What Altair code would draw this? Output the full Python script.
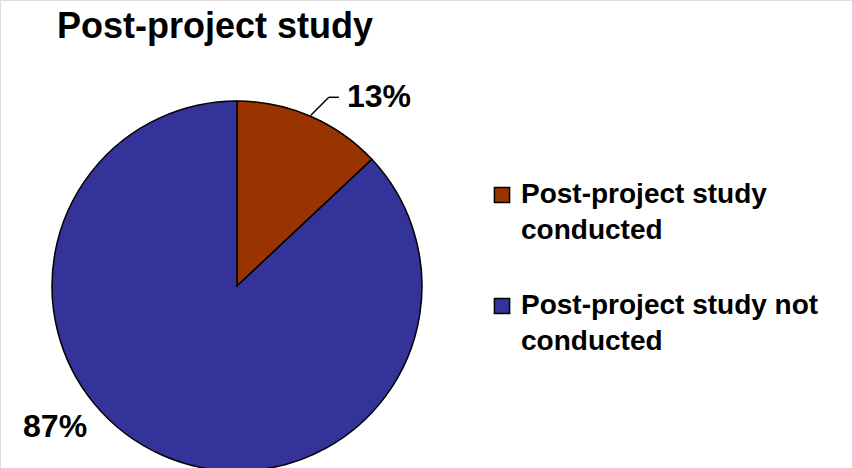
import altair as alt
import numpy as np
import pandas as pd

# Survey result: share of projects with / without a post-project study
categories = ["Post-project study conducted", "Post-project study not conducted"]
shares = [13, 87]
pct_labels = ["13%", "87%"]
colors = ["#993300", "#333399"]
title_text = "Post-project study"

FONT = "Liberation Sans"
CX, CY, R = 237, 286, 185  # pie centre and radius in pixels

df = pd.DataFrame({
    "category": categories,
    "share": shares,
    "label": pct_labels,
    "order": list(range(len(categories))),
})

# leader line for the small slice, starting at the slice's mid-angle on the rim
total = float(sum(shares))
mid = (shares[0] / 2.0) / total * 2 * np.pi
sx = CX + (R + 1) * np.sin(mid)
sy = CY - (R + 1) * np.cos(mid)
ex, ey = sx + 18, sy - 18
leader = pd.DataFrame({
    "x": [sx, ex],
    "y": [sy, ey],
    "x2": [ex, ex + 10],
    "y2": [ey, ey],
})

base = alt.Chart(df).encode(
    theta=alt.Theta("share:Q", stack=True),
    order=alt.Order("order:Q"),
    x=alt.value(CX),
    y=alt.value(CY),
)

pie = base.mark_arc(radius=R, stroke="black", strokeWidth=1.5).encode(
    color=alt.Color(
        "category:N",
        scale=alt.Scale(domain=categories, range=colors),
        sort=categories,
        legend=alt.Legend(
            title=None,
            orient="none",
            legendX=488,
            legendY=181,
            padding=0,
            symbolType="square",
            symbolSize=230,
            symbolStrokeColor="black",
            symbolStrokeWidth=1.5,
            labelFont=FONT,
            labelFontSize=28,
            labelFontWeight="bold",
            labelColor="black",
            labelOffset=5,
            labelLimit=400,
            rowPadding=47,
            labelExpr="[substring(datum.label, 0, lastindexof(datum.label, ' ')), "
                      "substring(datum.label, lastindexof(datum.label, ' ') + 1)]",
        ),
    )
)

text_style = dict(font=FONT, fontSize=32, fontWeight="bold",
                  align="center", baseline="middle", color="black")

# one label layer per slice, each over the full stack so angles stay shared
label_small = base.mark_text(radius=236, thetaOffset=0.237, **text_style).encode(
    text=alt.condition(alt.datum.order == 0, "label:N", alt.value(""))
)
label_large = base.mark_text(radius=230, thetaOffset=0.504, **text_style).encode(
    text=alt.condition(alt.datum.order == 1, "label:N", alt.value(""))
)

leader_lines = alt.Chart(leader).mark_rule(color="black", strokeWidth=1.5).encode(
    x=alt.X("x:Q", scale=None),
    y=alt.Y("y:Q", scale=None),
    x2="x2:Q",
    y2="y2:Q",
)

title = alt.Chart(pd.DataFrame({"t": [title_text]})).mark_text(
    font=FONT, fontSize=36, fontWeight="bold", align="left",
    baseline="alphabetic", color="black",
).encode(text="t:N", x=alt.value(57), y=alt.value(38))

chart = (
    alt.layer(pie, leader_lines, label_small, label_large, title)
    .properties(width=852, height=468, autosize=alt.AutoSizeParams(type="none"), padding=0)
    .configure_view(stroke=None)
    .configure(background="white", style={"guide-label": {"lineHeight": 36}})
)

chart.save("out.html", embed_options={"renderer": "svg", "actions": False})
